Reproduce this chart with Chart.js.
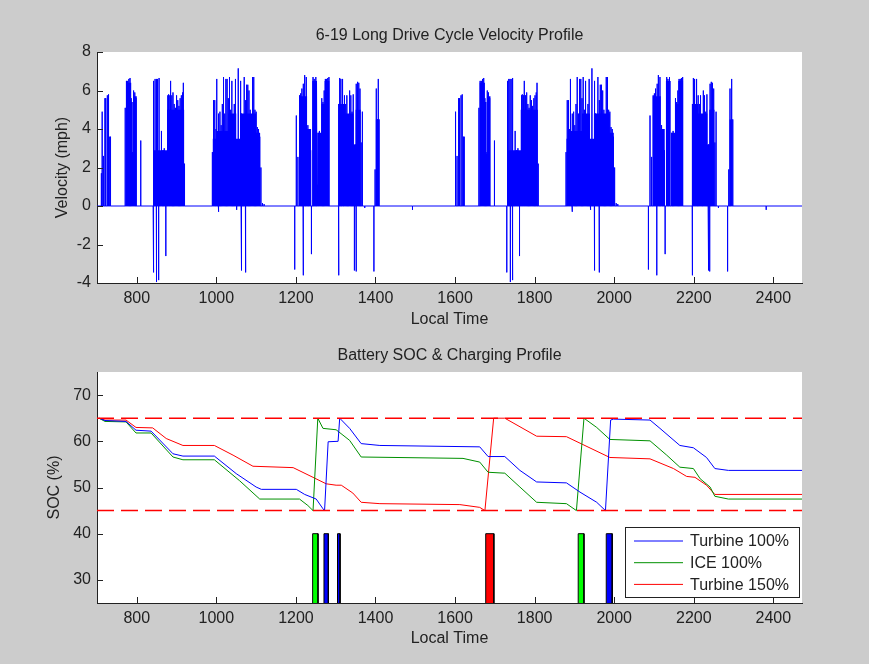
<!DOCTYPE html>
<html>
<head>
<meta charset="utf-8">
<title>6-19 Long Drive Cycle</title>
<script src="https://cdn.jsdelivr.net/npm/chart.js@4.4.1/dist/chart.umd.min.js"></script>
<style>
  html, body { margin: 0; padding: 0; background: #cccccc; }
  #wrap { position: relative; width: 869px; height: 664px; }
  #velChart { position: absolute; left: 0; top: 0; }
  #socChart { position: absolute; left: 0; top: 330px; }
</style>
</head>
<body>
<div id="wrap">
  <canvas id="velChart" width="869" height="330"></canvas>
  <canvas id="socChart" width="869" height="334"></canvas>
</div>
<script>
// ---- axes ----
const timeRange = [700, 2472];
const xTicks = [800, 1000, 1200, 1400, 1600, 1800, 2000, 2200, 2400];
const velTicks = [-4, -2, 0, 2, 4, 6, 8];
const socTicks = [30, 40, 50, 60, 70];

// ---- velocity: one lap of the drive cycle, the lap was driven twice ----
const lapOffset = [0, 889];
// single spikes (local time, mph)
const spikeTime = [711, 713, 716, 720, 722, 726, 729, 732, 734,
  771, 774, 777, 780, 783, 786, 789, 792, 795, 798, 810,
  841, 843, 846, 849, 850, 852, 855, 856, 859, 862, 866, 869, 873, 875, 878, 880, 883, 885, 888,
  891, 894, 897, 900, 903, 906, 909, 912, 915, 917, 920,
  990, 993, 996, 999, 1001, 1005, 1006, 1009, 1012, 1015, 1018, 1021, 1024, 1027, 1030, 1033, 1036,
  1039, 1042, 1045, 1048, 1051, 1052, 1055, 1058, 1061, 1062, 1064, 1067, 1070, 1073, 1074, 1076,
  1079, 1082, 1085, 1088, 1091, 1094, 1097, 1100, 1103, 1106, 1109, 1112, 1116, 1120,
  1197, 1201, 1205, 1209, 1212, 1215, 1218, 1219, 1222, 1226, 1230, 1234, 1237, 1239, 1243, 1246,
  1250, 1254, 1256, 1259, 1262, 1265, 1268, 1271, 1274, 1277, 1280, 1283,
  1307, 1308, 1310, 1313, 1316, 1318, 1322, 1325, 1328, 1331, 1335, 1338, 1341, 1344, 1347, 1349,
  1351, 1352, 1355, 1358, 1361, 1364, 1367, 1373,
  1396, 1399, 1402, 1405, 1407, 1409, 1493];
const spikeVel = [1.7, 4.9, 2.6, 5.6, 5.6, 5.75, 5.8, 3.6, 3.6,
  5.1, 6.5, 6.5, 6.6, 6.65, 5.6, 2.8, 6.0, 5.9, 5.6, 3.4,
  -3.45, 6.5, 6.6, 6.6, -3.95, 6.6, -3.85, 6.65, 2.8, 3.9, 2.9, 3.0, -2.6, 2.8, 5.75, 5.8, 5.75, 6.5, 5.75,
  5.9, 5.3, 5.1, 5.75, 5.5, 5.2, 5.6, 5.75, 5.9, 6.4, 2.2,
  2.8, 5.5, 5.5, 4.0, 6.6, -0.3, 4.8, 4.9, 4.2, 5.3, 6.7, 4.8, 6.6, 6.6, 5.6, 6.7, 5.0,
  6.5, 4.6, 5.3, 6.6, -0.2, 3.2, 7.15, 3.0, 6.5, -3.35, 4.8, 3.8, 6.7, 5.5, -3.45, 6.3,
  6.3, 6.0, 5.0, 4.0, 6.7, 6.7, 5.0, 4.9, 4.1, 4.0, 3.6, 2.0, 0.15, 0.1,
  -3.3, 4.7, 2.55, 5.75, 5.85, 6.1, -3.6, 6.35, 6.8, 6.7, 4.2, 3.8, 2.9, -2.5, 6.7, 6.6,
  6.7, 1.1, 3.8, 3.9, 3.7, 5.6, 5.4, 6.0, 6.6, 6.6, 6.65, 6.7,
  -3.6, 5.3, 6.65, 6.6, 4.7, 6.6, 5.75, 5.3, 5.75, 3.15, 6.0, 5.75, 4.9, 5.8, -3.35, 3.2,
  -3.4, 6.35, 6.45, 6.4, 6.1, 3.3, 4.9, -0.1,
  -3.4, 1.9, 6.1, 4.5, 6.6, 4.5, -0.2];
// stretches where the trace is solid (start, end, level mph)
const blockStart = [773, 786, 790, 792, 843, 876, 991, 1000, 1030, 1050, 1060, 1100,
  1208, 1228, 1241, 1255, 1264, 1272, 1307, 1322, 1345, 1350, 1401];
const blockEnd = [786, 790, 792, 800, 876, 919, 1000, 1030, 1050, 1060, 1100, 1110,
  1228, 1238, 1253, 1264, 1272, 1284, 1322, 1345, 1350, 1363, 1408];
const blockVel = [6.4, 5.4, 2.7, 5.7, 2.9, 5.0, 3.5, 3.9, 4.8, 3.5, 4.8, 3.8,
  5.7, 4.0, 6.5, 3.8, 5.3, 6.5, 5.3, 4.8, 3.2, 5.0, 4.5];

// ---- battery SOC (%) ----
const t100Time = [705, 720, 773, 798, 836, 891, 916, 995, 1050, 1100, 1113, 1201, 1222, 1251, 1268, 1272,
  1281, 1306, 1310, 1335, 1364, 1411, 1662, 1683, 1725, 1763, 1805, 1880, 1914, 1956, 1978,
  1991, 1998, 2090, 2115, 2165, 2199, 2232, 2253, 2287, 2472];
const t100Soc = [65, 64.5, 64.3, 62.4, 62.2, 57.3, 56.8, 56.8, 53, 50.1, 49.6, 49.6, 48.5, 47.5, 45.4, 45,
  59.9, 60, 65, 62.8, 59.5, 59.1, 58.8, 56.7, 56.7, 53.7, 51.2, 51, 49, 46.8, 45,
  64.6, 64.8, 64.6, 62.8, 59.1, 58.6, 56.5, 54.1, 53.7, 53.7];
const iceTime = [705, 720, 773, 798, 836, 891, 916, 995, 1058, 1109, 1209, 1230, 1243, 1255, 1268, 1301,
  1335, 1364, 1620, 1662, 1683, 1725, 1763, 1805, 1880, 1905, 1924, 1956, 1989, 2090, 2132,
  2165, 2199, 2216, 2241, 2253, 2287, 2472];
const iceSoc = [65, 64.3, 64.2, 61.8, 61.8, 56.6, 56, 56, 51.5, 47.5, 47.5, 46.1, 45, 65, 62.8, 62.5,
  60.2, 56.6, 56.3, 55.5, 53.3, 53.1, 50.1, 46.8, 46.5, 45, 65, 63, 60.4, 60.1, 57,
  54.4, 54.1, 51.9, 50.1, 48.1, 47.5, 47.5];
const t150Time = [705, 720, 773, 798, 840, 874, 916, 995, 1042, 1092, 1193, 1243, 1276, 1301, 1314, 1343,
  1364, 1411, 1612, 1662, 1675, 1697, 1725, 1805, 1880, 1989, 2090, 2149, 2182, 2203, 2232,
  2253, 2472];
const t150Soc = [65, 64.6, 64.6, 63, 62.9, 60.6, 59.1, 59.1, 57, 54.6, 54.3, 52.2, 50.8, 50.5, 50.5, 48.8,
  46.8, 46.5, 46.3, 45.7, 45, 65, 65, 61.1, 61, 56.5, 56.2, 54.1, 52.4, 52.2, 50.5,
  48.5, 48.5];
const socLimits = [65, 45];

// charging events (start, end) up to 40 on the SOC axis
const chargeStart = [1242, 1270.5, 1304.5, 1677, 1909.5, 1980];
const chargeEnd = [1255.5, 1281.5, 1311, 1697.5, 1924, 1995];
const chargeLevel = 40;
const chargeColor = ['#00ff00', '#0000ff', '#0000ff', '#ff0000', '#00ff00', '#0000ff'];

const FONT = '"Liberation Sans", Arial, Helvetica, sans-serif';
Chart.defaults.font.family = FONT;
Chart.defaults.font.size = 16;
Chart.defaults.color = '#222';

function pts(xs, ys) {
  return xs.map((x, i) => ({x: x, y: ys[i]}));
}

// white plot box, inward ticks, titles and axis labels like the matlab figure
const matlabLook = {
  id: 'matlabLook',
  beforeDraw(chart) {
    const {ctx, chartArea: a} = chart;
    ctx.save();
    ctx.fillStyle = '#ffffff';
    ctx.fillRect(a.left, a.top, a.right - a.left, a.bottom - a.top);
    ctx.restore();
  },
  afterDraw(chart, args, opts) {
    const {ctx, chartArea: a, scales} = chart;
    ctx.save();
    ctx.strokeStyle = '#222';
    ctx.lineWidth = 1;
    ctx.beginPath();
    scales.x.ticks.forEach(t => {
      const px = Math.round(scales.x.getPixelForValue(t.value)) + 0.5;
      ctx.moveTo(px, a.bottom);
      ctx.lineTo(px, a.bottom - 6);
    });
    scales.y.ticks.forEach(t => {
      const py = Math.round(scales.y.getPixelForValue(t.value)) + 0.5;
      ctx.moveTo(a.left, py);
      ctx.lineTo(a.left + 6, py);
    });
    ctx.stroke();

    ctx.fillStyle = '#222';
    ctx.font = '16px ' + FONT;
    ctx.textAlign = 'center';
    ctx.textBaseline = 'middle';
    const cx = (a.left + a.right) / 2;
    ctx.fillText(opts.title, cx, a.top - 16);
    ctx.fillText(opts.xLabel, cx, a.bottom + opts.xLabelGap);
    ctx.translate(opts.yLabelX, (a.top + a.bottom) / 2);
    ctx.rotate(-Math.PI / 2);
    ctx.fillText(opts.yLabel, 0, 0);
    ctx.restore();

    if (opts.legend) {
      const items = chart.data.datasets.filter(d => d.inLegend);
      const w = 174, h = 70;
      const x0 = a.right - 3 - w, y0 = a.bottom - 6 - h;
      ctx.save();
      ctx.fillStyle = '#fff';
      ctx.fillRect(x0, y0, w, h);
      ctx.strokeStyle = '#222';
      ctx.lineWidth = 1;
      ctx.strokeRect(Math.round(x0) + 0.5, Math.round(y0) + 0.5, w, h);
      ctx.font = '16px ' + FONT;
      ctx.textAlign = 'left';
      ctx.textBaseline = 'middle';
      items.forEach((d, i) => {
        const yy = y0 + 14 + i * 21.7;
        ctx.strokeStyle = d.borderColor;
        ctx.beginPath();
        ctx.moveTo(x0 + 9, yy);
        ctx.lineTo(x0 + 58, yy);
        ctx.stroke();
        ctx.fillStyle = '#222';
        ctx.fillText(d.label, x0 + 65, yy + 1);
      });
      ctx.restore();
    }
  }
};

function xAxis(height) {
  return {
    type: 'linear',
    min: timeRange[0],
    max: timeRange[1],
    grid: {display: false, drawTicks: false},
    border: {display: true, color: '#222', width: 1},
    ticks: {padding: 6, autoSkip: false, maxRotation: 0, callback: v => String(v)},
    afterBuildTicks: s => { s.ticks = xTicks.map(v => ({value: v})); },
    afterFit: s => { s.height = height; }
  };
}

function yAxis(min, max, tickList) {
  return {
    type: 'linear',
    min: min,
    max: max,
    grid: {display: false, drawTicks: false},
    border: {display: true, color: '#222', width: 1},
    ticks: {padding: 6, autoSkip: false, callback: v => String(v)},
    afterBuildTicks: s => { s.ticks = tickList.map(v => ({value: v})); },
    afterFit: s => { s.width = 97; }
  };
}

// ---- top chart: velocity ----
const velPoints = [{x: timeRange[0], y: 0}];
const fillPoints = [{x: timeRange[0], y: 0}];
lapOffset.forEach(off => {
  spikeTime.forEach((t, i) => {
    velPoints.push({x: t + off, y: 0}, {x: t + off, y: spikeVel[i]}, {x: t + off, y: 0});
  });
  blockStart.forEach((s, i) => {
    fillPoints.push({x: s + off, y: 0}, {x: s + off, y: blockVel[i]},
      {x: blockEnd[i] + off, y: blockVel[i]}, {x: blockEnd[i] + off, y: 0});
  });
});
velPoints.push({x: timeRange[1], y: 0});
fillPoints.push({x: timeRange[1], y: 0});

new Chart(document.getElementById('velChart'), {
  type: 'line',
  data: {
    datasets: [
      {data: fillPoints, borderColor: 'transparent', borderWidth: 1, backgroundColor: '#0000ff', fill: 'origin'},
      {data: velPoints, borderColor: '#0000ff', borderWidth: 1, fill: false}
    ]
  },
  options: {
    responsive: false,
    animation: false,
    events: [],
    layout: {padding: {left: 0, top: 52, right: 67, bottom: 0}},
    elements: {point: {radius: 0}, line: {tension: 0}},
    scales: {x: xAxis(47), y: yAxis(-4, 8, velTicks)},
    plugins: {
      legend: {display: false},
      tooltip: {enabled: false},
      matlabLook: {title: '6-19 Long Drive Cycle Velocity Profile', xLabel: 'Local Time', xLabelGap: 37,
        yLabel: 'Velocity (mph)', yLabelX: 63}
    }
  },
  plugins: [matlabLook]
});

// ---- bottom chart: SOC & charging ----
const socSets = [];
socLimits.forEach(v => {
  socSets.push({data: [{x: timeRange[0], y: v}, {x: timeRange[1], y: v}], borderColor: '#ff0000',
    borderWidth: 1.5, borderDash: [17, 7], fill: false});
});
socSets.push({label: 'Turbine 100%', inLegend: true, data: pts(t100Time, t100Soc), borderColor: '#0000ff', borderWidth: 1, fill: false});
socSets.push({label: 'ICE 100%', inLegend: true, data: pts(iceTime, iceSoc), borderColor: '#009000', borderWidth: 1, fill: false});
socSets.push({label: 'Turbine 150%', inLegend: true, data: pts(t150Time, t150Soc), borderColor: '#ff0000', borderWidth: 1, fill: false});
chargeStart.forEach((s, i) => {
  const e = chargeEnd[i];
  socSets.push({
    data: [{x: s, y: 25}, {x: s, y: chargeLevel}, {x: e, y: chargeLevel}, {x: e, y: 25}],
    borderColor: '#000', borderWidth: 1, backgroundColor: chargeColor[i], fill: 'start'
  });
});

new Chart(document.getElementById('socChart'), {
  type: 'line',
  data: {datasets: socSets},
  options: {
    responsive: false,
    animation: false,
    events: [],
    layout: {padding: {left: 0, top: 42, right: 67, bottom: 0}},
    elements: {point: {radius: 0}, line: {tension: 0}},
    scales: {x: xAxis(61), y: yAxis(25, 75, socTicks)},
    plugins: {
      legend: {display: false},
      tooltip: {enabled: false},
      matlabLook: {title: 'Battery SOC & Charging Profile', xLabel: 'Local Time', xLabelGap: 36,
        yLabel: 'SOC (%)', yLabelX: 55, legend: true}
    }
  },
  plugins: [matlabLook]
});
</script>
</body>
</html>
